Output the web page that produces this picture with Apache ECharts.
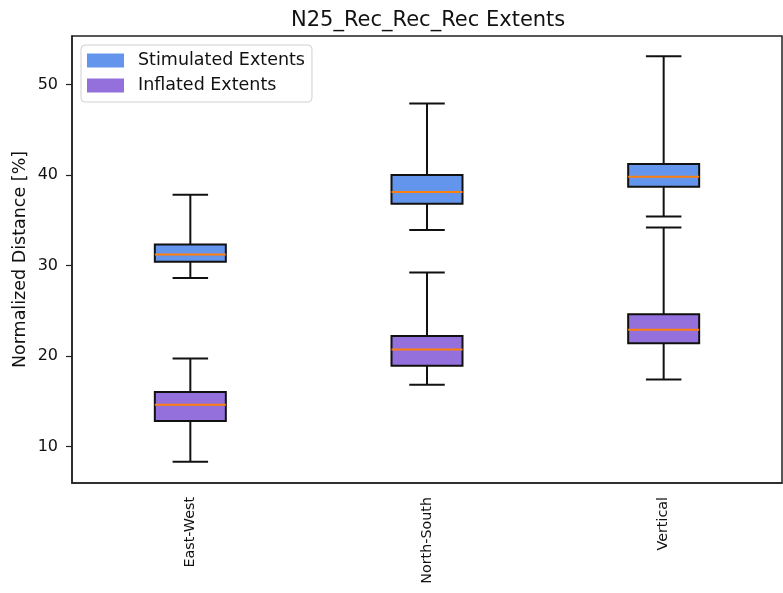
<!DOCTYPE html>
<html>
<head>
<meta charset="utf-8">
<script src="https://cdn.jsdelivr.net/npm/echarts@6/dist/echarts.min.js"></script>
<style>
  html, body { margin: 0; padding: 0; background: #fff; }
  #chart { width: 783px; height: 593px; }
</style>
</head>
<body>
<div id="chart"></div>
<script>
// box stats per category: [lower whisker, Q1, median, Q3, upper whisker]
const categories = ["East-West", "North-South", "Vertical"];
const stimulated = [
  [28.6, 30.4, 31.2, 32.3, 37.8],
  [33.9, 36.8, 38.1, 40.0, 47.9],
  [35.4, 38.7, 39.8, 41.2, 53.1],
];
const inflated = [
  [8.3, 12.8, 14.6, 16.0, 19.7],
  [16.8, 18.9, 20.7, 22.2, 29.2],
  [17.4, 21.4, 22.9, 24.6, 34.2],
];
const yTicks = [10, 20, 30, 40, 50];

const FONT = "DejaVu Sans";
const INK = "#111";

// box is 0.3 of a category step wide, caps half that (matplotlib style)
function renderBox(params, api) {
  const x = api.value(0);
  const band = api.size([1, 0])[0];
  const half = band * 0.15;
  const cap = band * 0.075;
  const p = [1, 2, 3, 4, 5].map((i) => api.coord([x, api.value(i)]));
  const cx = p[0][0];
  const line = (x1, y1, x2, y2, color) => ({
    type: "line",
    shape: { x1, y1, x2, y2 },
    style: { stroke: color || INK, lineWidth: 2 },
  });
  return {
    type: "group",
    children: [
      line(cx, p[0][1], cx, p[1][1]),
      line(cx, p[3][1], cx, p[4][1]),
      line(cx - cap, p[0][1], cx + cap, p[0][1]),
      line(cx - cap, p[4][1], cx + cap, p[4][1]),
      {
        type: "rect",
        shape: { x: cx - half, y: p[3][1], width: half * 2, height: p[1][1] - p[3][1] },
        style: { fill: api.visual("color"), stroke: INK, lineWidth: 2 },
      },
      line(cx - half, p[2][1], cx + half, p[2][1], "#ff7f0e"),
    ],
  };
}

const toRows = (arr) => arr.map((s, i) => [i, ...s]);

const chart = echarts.init(document.getElementById("chart"));
chart.setOption({
  animation: false,
  backgroundColor: "#fff",
  textStyle: { fontFamily: FONT },
  title: {
    text: "N25_Rec_Rec_Rec Extents",
    left: 286,
    top: 5,
    textStyle: { fontFamily: FONT, fontSize: 21, fontWeight: "normal", color: INK },
  },
  legend: {
    orient: "vertical",
    left: 81,
    top: 45,
    padding: [6, 7, 7, 6],
    itemWidth: 37,
    itemHeight: 14,
    itemGap: 6,
    borderColor: "#d0d0d0",
    borderWidth: 1,
    borderRadius: 4,
    backgroundColor: "rgba(255,255,255,0.8)",
    icon: "rect",
    textStyle: { fontFamily: FONT, fontSize: 17.5, color: INK, lineHeight: 19, padding: [0, 0, 0, 9] },
    data: [
      { name: "Stimulated Extents", itemStyle: { color: "#6495ED" } },
      { name: "Inflated Extents", itemStyle: { color: "#9370DB" } },
    ],
  },
  grid: {
    left: 72,
    right: 1,
    top: 36,
    bottom: 110,
    show: true,
    borderColor: "#222",
    borderWidth: 1.5,
    backgroundColor: "transparent",
  },
  xAxis: {
    type: "category",
    data: categories,
    boundaryGap: true,
    axisLine: { lineStyle: { color: "#222", width: 1.5 } },
    axisTick: { alignWithLabel: true, length: 6, lineStyle: { color: "#222", width: 1.2 } },
    axisLabel: { rotate: 90, fontSize: 14.3, color: INK, margin: 14, fontFamily: FONT },
    splitLine: { show: false },
  },
  yAxis: {
    type: "value",
    min: 5.95,
    max: 55.35,
    name: "Normalized Distance [%]",
    nameLocation: "middle",
    nameRotate: 90,
    nameGap: 43,
    nameMoveOverlap: false,
    nameTextStyle: { fontFamily: FONT, fontSize: 17.5, color: INK },
    axisLine: { show: true, lineStyle: { color: "#222", width: 1.5 } },
    axisTick: { show: true, length: 6, customValues: yTicks, lineStyle: { color: "#222", width: 1.2 } },
    axisLabel: { fontSize: 16, color: INK, margin: 14, customValues: yTicks, fontFamily: FONT },
    splitLine: { show: false },
  },
  series: [
    {
      name: "Stimulated Extents",
      type: "custom",
      renderItem: renderBox,
      itemStyle: { color: "#6495ED" },
      encode: { x: 0, y: [1, 2, 3, 4, 5] },
      data: toRows(stimulated),
    },
    {
      name: "Inflated Extents",
      type: "custom",
      renderItem: renderBox,
      itemStyle: { color: "#9370DB" },
      encode: { x: 0, y: [1, 2, 3, 4, 5] },
      data: toRows(inflated),
    },
  ],
});
</script>
</body>
</html>
